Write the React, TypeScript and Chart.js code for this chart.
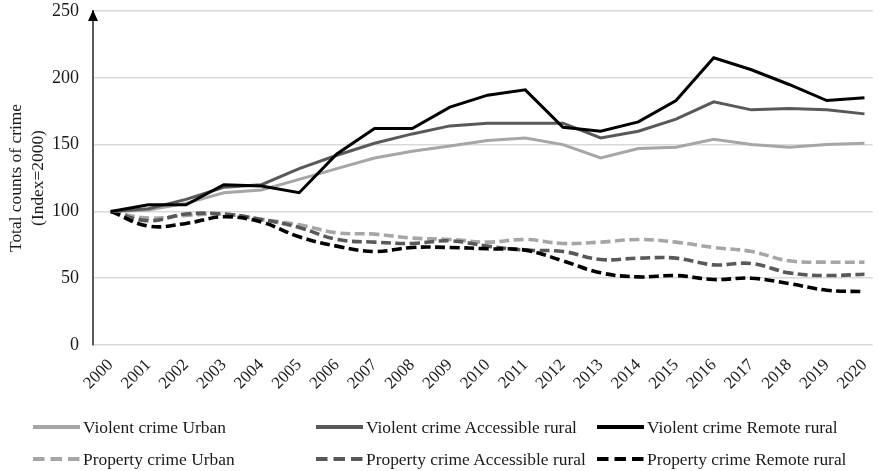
import React, { useEffect, useRef } from 'react';
import { Chart, registerables } from 'chart.js';

Chart.register(...registerables);

// ---------- data ----------
const years = [2000, 2001, 2002, 2003, 2004, 2005, 2006, 2007, 2008, 2009, 2010, 2011, 2012, 2013, 2014, 2015, 2016, 2017, 2018, 2019, 2020];
const violentUrban = [100, 101, 106, 114, 116, 124, 132, 140, 145, 149, 153, 155, 150, 140, 147, 148, 154, 150, 148, 150, 151];
const violentAccessible = [100, 102, 109, 118, 120, 132, 142, 151, 158, 164, 166, 166, 166, 155, 160, 169, 182, 176, 177, 176, 173];
const violentRemote = [100, 105, 105, 120, 119, 114, 143, 162, 162, 178, 187, 191, 163, 160, 167, 183, 215, 206, 195, 183, 185];
const propertyUrban = [100, 95, 97, 98, 94, 90, 84, 83, 80, 79, 77, 79, 76, 77, 79, 77, 73, 70, 63, 62, 62];
const propertyAccessible = [100, 93, 98, 98, 94, 88, 79, 77, 76, 78, 74, 71, 70, 64, 65, 65, 60, 61, 54, 52, 53];
const propertyRemote = [100, 89, 91, 96, 92, 81, 74, 70, 73, 73, 72, 71, 63, 54, 51, 52, 49, 50, 46, 41, 40];
const seriesLabels = [
  'Violent crime Urban',
  'Violent crime Accessible rural',
  'Violent crime Remote rural',
  'Property crime Urban',
  'Property crime Accessible rural',
  'Property crime Remote rural',
];
const yTicks = [0, 50, 100, 150, 200, 250];
const yTitle = ['Total counts of crime', '(Index=2000)'];

// ---------- styles ----------
const LIGHT = '#a6a6a6';
const MID = '#595959';
const DARK = '#000000';
const TEXT = '#1a1a1a';
const FONT = '"Liberation Serif", "Times New Roman", serif';

const series = [
  { label: seriesLabels[0], data: violentUrban, color: LIGHT, dashed: false, order: 2 },
  { label: seriesLabels[1], data: violentAccessible, color: MID, dashed: false, order: 1 },
  { label: seriesLabels[2], data: violentRemote, color: DARK, dashed: false, order: 0 },
  { label: seriesLabels[3], data: propertyUrban, color: LIGHT, dashed: true, order: 5 },
  { label: seriesLabels[4], data: propertyAccessible, color: MID, dashed: true, order: 4 },
  { label: seriesLabels[5], data: propertyRemote, color: DARK, dashed: true, order: 3 },
];

const legendCols = [33, 316, 597];
const legendRows = [427, 459];

const arrowPlugin = {
  id: 'yArrow',
  afterDraw(chart: any) {
    const { ctx, chartArea } = chart;
    const x = chartArea.left;
    const tip = chartArea.top;
    ctx.save();
    ctx.fillStyle = '#000';
    ctx.beginPath();
    ctx.moveTo(x, tip - 1);
    ctx.lineTo(x - 5, tip + 10);
    ctx.lineTo(x + 5, tip + 10);
    ctx.closePath();
    ctx.fill();
    ctx.restore();
  },
};

export default function App() {
  const canvasRef = useRef<HTMLCanvasElement | null>(null);

  useEffect(() => {
    if (!canvasRef.current) return;
    const chart = new Chart(canvasRef.current, {
      type: 'line',
      data: {
        datasets: series.map((s) => ({
          label: s.label,
          data: years.map((yr, i) => ({ x: yr, y: s.data[i] })),
          borderColor: s.color,
          backgroundColor: s.color,
          borderWidth: s.dashed ? 3.6 : 3,
          borderDash: s.dashed ? [10, 4.5] : [],
          tension: s.dashed ? 0.4 : 0,
          pointRadius: 0,
          pointHoverRadius: 0,
          fill: false,
          order: s.order,
        })),
      },
      options: {
        animation: false,
        responsive: false,
        maintainAspectRatio: false,
        layout: { padding: { top: 11, right: 9, bottom: 0, left: 0 } },
        plugins: {
          legend: { display: false },
          tooltip: { enabled: false },
        },
        scales: {
          x: {
            type: 'linear',
            min: 1999.53,
            max: 2020.22,
            grid: { display: false, drawTicks: false },
            border: { display: false },
            ticks: {
              stepSize: 1,
              includeBounds: false,
              autoSkip: false,
              maxTicksLimit: 40,
              maxRotation: 45,
              minRotation: 45,
              padding: 10,
              color: TEXT,
              font: { family: FONT, size: 17 },
              callback: (v: any) => String(v),
            },
            afterFit: (s: any) => {
              s.height = 126;
            },
          },
          y: {
            min: yTicks[0],
            max: yTicks[yTicks.length - 1],
            ticks: {
              stepSize: 50,
              padding: 14,
              color: TEXT,
              font: { family: FONT, size: 18 },
            },
            grid: { color: '#d9d9d9', lineWidth: 1.5, drawTicks: false },
            border: { display: true, color: '#5a5a5a', width: 2 },
            title: {
              display: true,
              text: yTitle,
              color: TEXT,
              font: { family: FONT, size: 17.4, lineHeight: 1.27 },
              padding: { top: 5, bottom: 0 },
            },
            afterFit: (s: any) => {
              s.width = 93;
              s.paddingTop = 0;
              s.paddingBottom = 0;
            },
          },
        },
      } as any,
      plugins: [arrowPlugin],
    });
    return () => chart.destroy();
  }, []);

  return (
    <div style={{ position: 'absolute', left: 0, top: 0, width: 889, height: 471, background: '#fff', overflow: 'hidden' }}>
      <canvas ref={canvasRef} width={889} height={471} style={{ display: 'block', width: 889, height: 471 }} />
      {series.map((s, i) => (
        <div
          key={s.label}
          style={{
            position: 'absolute',
            left: legendCols[i % 3],
            top: legendRows[Math.floor(i / 3)] - 12,
            height: 24,
            display: 'flex',
            alignItems: 'center',
            whiteSpace: 'nowrap',
          }}
        >
          <svg width={47} height={24} style={{ display: 'block' }}>
            <line
              x1={0}
              y1={12}
              x2={47}
              y2={12}
              stroke={s.color}
              strokeWidth={4}
              strokeDasharray={s.dashed ? '11.5 6' : undefined}
            />
          </svg>
          <span style={{ marginLeft: 3, fontFamily: FONT, fontSize: 17.4, color: TEXT, lineHeight: '24px' }}>{s.label}</span>
        </div>
      ))}
    </div>
  );
}
